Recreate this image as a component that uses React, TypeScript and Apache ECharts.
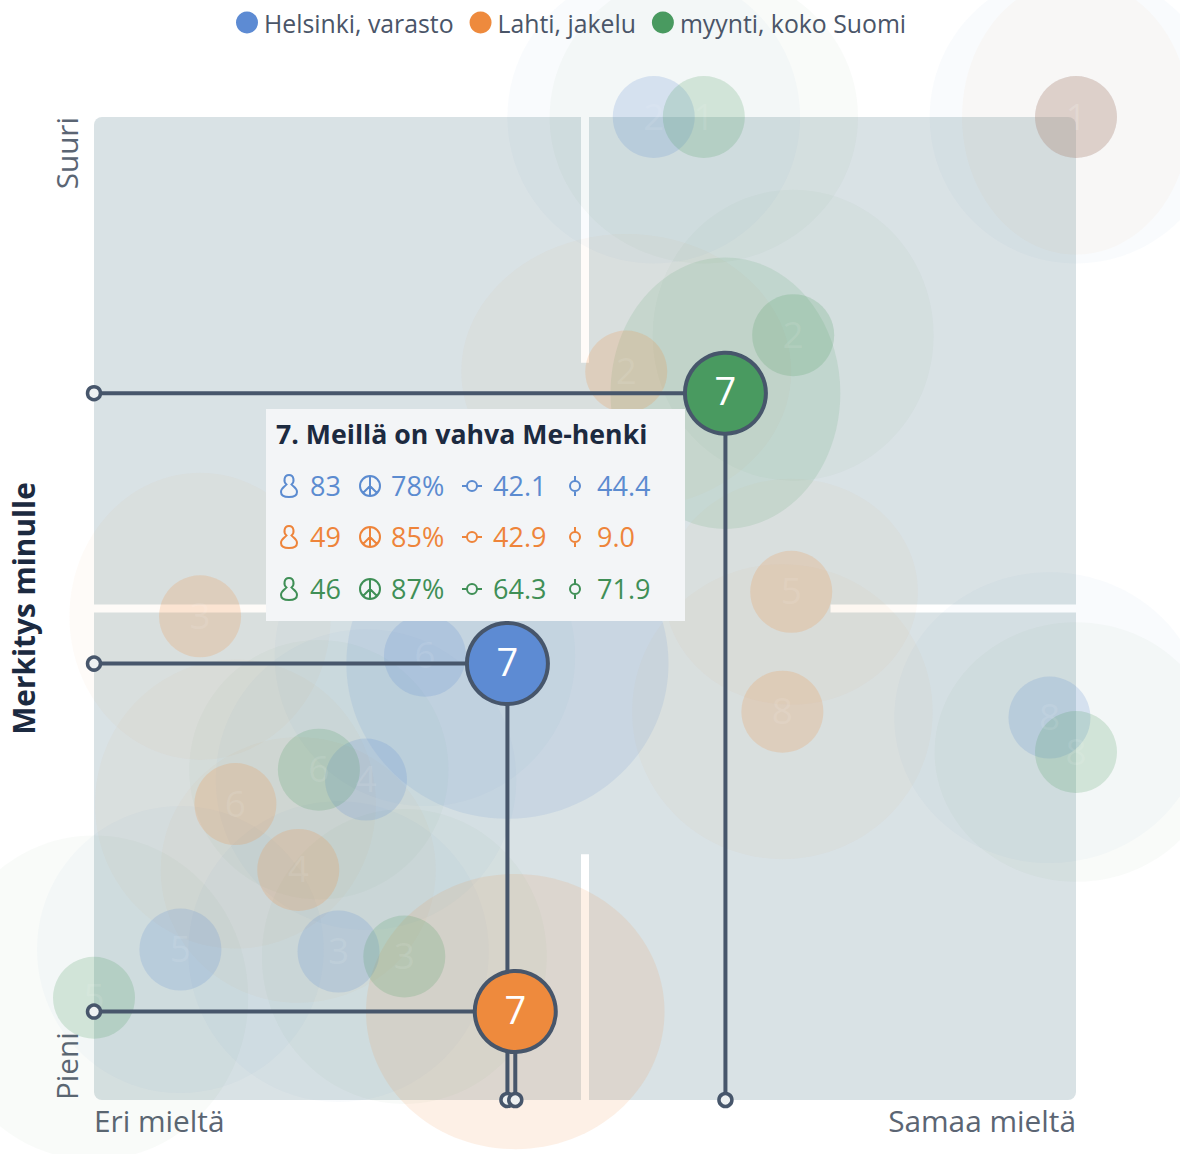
import React, { useEffect, useRef } from "react";
import * as echarts from "echarts";

const WIDTH = 1180;
const HEIGHT = 1154;
const GRID = { left: 94, top: 117, width: 982, height: 983 };

const seriesNames = ["Helsinki, varasto", "Lahti, jakelu", "myynti, koko Suomi"];
const seriesColors = ["#5d8bd3", "#ee8a3d", "#499a60"];
const textColors = ["#5b8bd0", "#ee843a", "#3f8f56"];
const DARK = "#47566b";

const blueLabels = ["1", "2", "3", "4", "5", "6", "8"];
const blueX = [100, 57.0, 24.9, 27.7, 8.8, 33.7, 97.3];
const blueY = [100, 100, 15.1, 32.6, 15.3, 45.2, 38.9];
const blueSpreadX = [14.9, 14.9, 15.3, 15.3, 14.6, 15.3, 15.8];
const blueSpreadY = [14.9, 14.9, 15.3, 15.3, 14.6, 15.3, 14.8];

const orangeLabels = ["1", "2", "3", "4", "5", "6", "8"];
const orangeX = [100, 54.2, 10.8, 20.8, 71.0, 14.4, 70.1];
const orangeY = [100, 74.1, 49.2, 23.4, 51.7, 30.1, 39.5];
const orangeSpreadX = [11.6, 16.8, 13.3, 14.0, 12.9, 14.3, 15.3];
const orangeSpreadY = [14.0, 14.0, 14.6, 13.5, 11.5, 14.7, 15.0];

const greenLabels = ["1", "2", "3", "5", "6", "8"];
const greenX = [62.1, 71.2, 31.6, 0, 22.9, 100];
const greenY = [100, 77.8, 14.6, 10.4, 33.6, 35.4];
const greenSpreadX = [15.7, 14.3, 14.5, 15.7, 13.2, 14.4];
const greenSpreadY = [14.9, 14.8, 15.0, 16.5, 13.2, 13.2];

const activeLabel = "7";
const activeX = [42.1, 42.9, 64.3];
const activeY = [44.4, 9.0, 71.9];
const activeSpreadX = [16.4, 15.2, 11.7];
const activeSpreadY = [15.8, 14.0, 13.8];

const tooltipTitle = "7. Meillä on vahva Me-henki";
const tooltipCounts = ["83", "49", "46"];
const tooltipShares = ["78%", "85%", "87%"];

const xTicks = [0, 100];
const yTicks = [0, 100];
const xEndLabels = ["Eri mieltä", "Samaa mieltä"];
const yEndLabels = ["Pieni", "Suuri"];
const yAxisName = "Merkitys minulle";

const dividerSegments = [
  [[50, 100], [50, 75]],
  [[50, 25], [50, 0]],
  [[0, 50], [25, 50]],
  [[75, 50], [100, 50]],
];

const FONT = '"Open Sans", "Noto Sans", sans-serif';

echarts.graphic.registerShape(
  "iconPerson",
  echarts.graphic.extendPath(
    "M-2.5,-1.5 C-5.5,-3.5 -5.5,-11 0,-11 C5.5,-11 5.5,-3.5 2.5,-1.5 C4,0.5 8,2 8,6 C8,9 5,11 0,11 C-5,11 -8,9 -8,6 C-8,2 -4,0.5 -2.5,-1.5 Z",
    {}
  )
);
echarts.graphic.registerShape(
  "iconPeace",
  echarts.graphic.extendPath(
    "M-10,0 A10,10 0 1,1 10,0 A10,10 0 1,1 -10,0 Z M0,-10 L0,10 M0,0 L-7,7 M0,0 L7,7",
    {}
  )
);
echarts.graphic.registerShape(
  "iconRingH",
  echarts.graphic.extendPath(
    "M-5,0 A5,5 0 1,1 5,0 A5,5 0 1,1 -5,0 Z M-10,0 L-5,0 M5,0 L10,0",
    {}
  )
);
echarts.graphic.registerShape(
  "iconRingV",
  echarts.graphic.extendPath(
    "M-5,0 A5,5 0 1,1 5,0 A5,5 0 1,1 -5,0 Z M0,-10 L0,-5 M0,5 L0,10",
    {}
  )
);

function zip(...cols: any[][]) {
  return cols[0].map((_, i) => cols.map((c) => c[i]));
}

function haloSeries(name: string, color: string, data: any[], opacity: number, z: number) {
  return {
    type: "custom",
    name,
    z,
    silent: true,
    data,
    encode: { x: 0, y: 1 },
    renderItem: (_: any, api: any) => {
      const x = api.value(0);
      const y = api.value(1);
      const c = api.coord([x, y]);
      const s = api.size([api.value(2), api.value(3)], [x, y]);
      return {
        type: "ellipse",
        shape: { cx: c[0], cy: c[1], rx: s[0], ry: s[1] },
        style: { fill: color, opacity },
      };
    },
  };
}

function tooltipGraphic() {
  const TIP_Z = 100;
  const children: any[] = [
    {
      type: "rect",
      z: TIP_Z,
      shape: { x: 266, y: 409, width: 419, height: 212 },
      style: { fill: "#f3f5f7" },
    },
    {
      type: "text",
      z: TIP_Z + 1,
      x: 276,
      y: 433,
      style: {
        text: tooltipTitle,
        font: `700 26.7px ${FONT}`,
        fill: "#1c2a40",
        verticalAlign: "middle",
      },
    },
  ];
  const rows = [486, 537, 589];
  rows.forEach((y, i) => {
    const color = textColors[i];
    const icons = [
      ["iconPerson", 289],
      ["iconPeace", 370],
      ["iconRingH", 472],
      ["iconRingV", 575],
    ];
    icons.forEach(([type, x]) => {
      children.push({
        type,
        z: TIP_Z + 1,
        x,
        y,
        style: { fill: "none", stroke: color, lineWidth: 2 },
      });
    });
    const cells = [
      [tooltipCounts[i], 310],
      [tooltipShares[i], 391],
      [activeX[i].toFixed(1), 493],
      [activeY[i].toFixed(1), 597],
    ];
    cells.forEach(([text, x]) => {
      children.push({
        type: "text",
        z: TIP_Z + 1,
        x,
        y: y - 1,
        style: {
          text,
          font: `400 27px ${FONT}`,
          fill: color,
          verticalAlign: "middle",
        },
      });
    });
  });
  return { type: "group", children };
}

function buildOption() {
  const groups = [
    { x: blueX, y: blueY, sx: blueSpreadX, sy: blueSpreadY, l: blueLabels },
    { x: orangeX, y: orangeY, sx: orangeSpreadX, sy: orangeSpreadY, l: orangeLabels },
    { x: greenX, y: greenY, sx: greenSpreadX, sy: greenSpreadY, l: greenLabels },
  ];
  const series: any[] = [];

  dividerSegments.forEach((seg, i) => {
    series.push({
      type: "line",
      name: `divider ${i}`,
      z: 1,
      silent: true,
      symbol: "none",
      clip: false,
      data: seg,
      lineStyle: { color: "#ffffff", width: 8, cap: "butt" },
    });
  });

  groups.forEach((g, i) => {
    series.push(
      haloSeries(`halo ${i}`, seriesColors[i], zip(g.x, g.y, g.sx, g.sy), 0.035, 2)
    );
  });
  groups.forEach((_, i) => {
    series.push(
      haloSeries(
        `active halo ${i}`,
        seriesColors[i],
        [[activeX[i], activeY[i], activeSpreadX[i], activeSpreadY[i]]],
        0.13,
        3
      )
    );
  });

  groups.forEach((g, i) => {
    series.push({
      type: "scatter",
      name: `points ${i}`,
      z: 4,
      clip: false,
      silent: true,
      symbolSize: 82,
      data: zip(g.x, g.y, g.l),
      itemStyle: { color: seriesColors[i], opacity: 0.2 },
      label: {
        show: true,
        position: "inside",
        offset: [0, -2],
        formatter: (p: any) => p.value[2],
        color: "rgba(255,255,255,0.5)",
        fontSize: 37,
        fontFamily: FONT,
      },
    });
  });

  groups.forEach((_, i) => {
    series.push({
      type: "line",
      name: `guide ${i}`,
      z: 5,
      clip: false,
      silent: true,
      symbol: "circle",
      symbolSize: 13,
      showAllSymbol: true,
      lineStyle: { color: DARK, width: 4 },
      itemStyle: { color: "#eef1f2", borderColor: DARK, borderWidth: 3.5 },
      data: [
        { value: [0, activeY[i]] },
        { value: [activeX[i], activeY[i]], symbol: "none" },
        { value: [activeX[i], 0] },
      ],
    });
  });

  groups.forEach((_, i) => {
    series.push({
      type: "scatter",
      name: seriesNames[i],
      z: 6,
      clip: false,
      silent: true,
      symbolSize: 81,
      data: [[activeX[i], activeY[i], activeLabel]],
      itemStyle: {
        color: seriesColors[i],
        opacity: 1,
        borderColor: DARK,
        borderWidth: 4,
      },
      label: {
        show: true,
        position: "inside",
        offset: [0, -3],
        formatter: (p: any) => p.value[2],
        color: "#ffffff",
        fontSize: 38,
        fontFamily: FONT,
      },
    });
  });

  return {
    animation: false,
    backgroundColor: "#ffffff",
    textStyle: { fontFamily: FONT },
    tooltip: { show: false },
    legend: {
      left: 231,
      top: 5,
      itemWidth: 22,
      itemHeight: 22,
      itemGap: 16,
      icon: "circle",
      selectedMode: false,
      data: seriesNames.map((name) => ({ name, itemStyle: { borderWidth: 0 } })),
      textStyle: { color: "#4a5568", fontSize: 24.8, fontFamily: FONT, padding: [0, 0, 0, 1] },
    },
    grid: { ...GRID, show: false },
    xAxis: {
      type: "value",
      min: 0,
      max: 100,
      axisLine: { show: false },
      axisTick: { show: false },
      splitLine: { show: false },
      axisLabel: {
        customValues: xTicks,
        alignMinLabel: "left",
        alignMaxLabel: "right",
        margin: 5,
        color: "#5b6573",
        fontSize: 29.8,
        fontFamily: FONT,
        formatter: (v: number) => (v === xTicks[0] ? xEndLabels[0] : xEndLabels[1]),
      },
    },
    yAxis: {
      type: "value",
      min: 0,
      max: 100,
      name: yAxisName,
      nameLocation: "middle",
      nameGap: 56,
      nameTextStyle: { color: "#1c2a40", fontSize: 29.8, fontWeight: 700, fontFamily: FONT },
      axisLine: { show: false },
      axisTick: { show: false },
      splitLine: { show: false },
      axisLabel: {
        customValues: yTicks,
        rotate: 90,
        alignMinLabel: "left",
        alignMaxLabel: "right",
        margin: 13,
        color: "#5b6573",
        fontSize: 29.7,
        fontFamily: FONT,
        formatter: (v: number) => (v === yTicks[0] ? yEndLabels[0] : yEndLabels[1]),
      },
    },
    graphic: {
      elements: [
        {
          type: "rect",
          z: -10,
          silent: true,
          shape: { x: GRID.left, y: GRID.top, width: GRID.width, height: GRID.height, r: 8 },
          style: { fill: "#d9e2e5" },
        },
        tooltipGraphic(),
      ],
    },
    series,
  };
}

export default function App() {
  const ref = useRef<HTMLDivElement>(null);
  useEffect(() => {
    const chart = echarts.init(ref.current!, undefined, { renderer: "svg" });
    chart.setOption(buildOption() as any);
    return () => chart.dispose();
  }, []);
  return (
    <div
      ref={ref}
      style={{ position: "absolute", left: 0, top: 0, width: WIDTH, height: HEIGHT }}
    />
  );
}
